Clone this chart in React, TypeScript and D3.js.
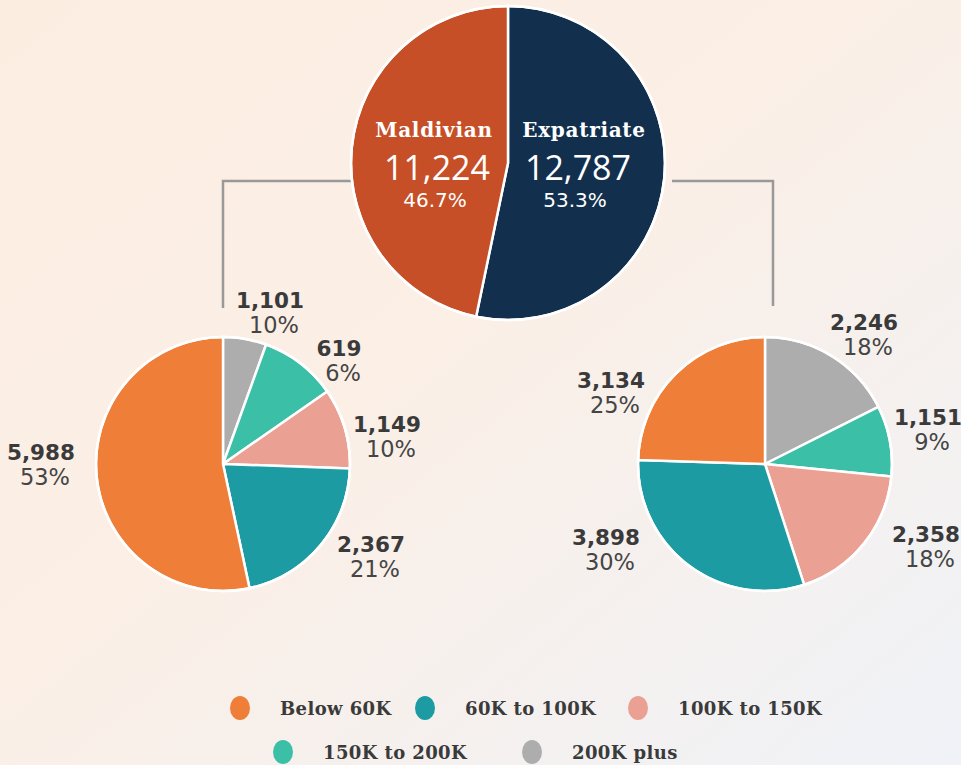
import React from "react";
import * as d3 from "d3";

// ---- Data ----
const mainCategories = ["Expatriate", "Maldivian"];
const mainValues = [12787, 11224];
const mainPercents = ["53.3%", "46.7%"];

// pie drawing order (clockwise from 12 o'clock)
const incomeCategories = ["200K plus", "150K to 200K", "100K to 150K", "60K to 100K", "Below 60K"];
const maldivianValues = [619, 1101, 1149, 2367, 5988];
const expatriateValues = [2246, 1151, 2358, 3898, 3134];

// label texts as printed next to each slice (same order as slices)
const maldivianLabelValues = ["1,101", "619", "1,149", "2,367", "5,988"];
const maldivianLabelPercents = ["10%", "6%", "10%", "21%", "53%"];
const expatriateLabelValues = ["2,246", "1,151", "2,358", "3,898", "3,134"];
const expatriateLabelPercents = ["18%", "9%", "18%", "30%", "25%"];

const legendOrder = ["Below 60K", "60K to 100K", "100K to 150K", "150K to 200K", "200K plus"];

// ---- Styles / layout ----
const incomeColors: Record<string, string> = {
  "Below 60K": "#ee7e38",
  "60K to 100K": "#1c9ba3",
  "100K to 150K": "#eba094",
  "150K to 200K": "#3bbfa6",
  "200K plus": "#adadad",
};
const mainColors = ["#12304e", "#c64f28"];

const W = 961, H = 765;
const top = { cx: 508, cy: 163, r: 157 };
const leftPie = { cx: 223, cy: 464, r: 127 };
const rightPie = { cx: 765, cy: 464, r: 127 };

const mainNameX = [584, 434];
const mainNumX = [578, 437];
const mainPctX = [575, 435];

// label anchor centers (x, y of number baseline) per slice
const leftLabelPos = [[270, 308], [339, 356], [387, 432], [371, 552], [41, 460]];
const rightLabelPos = [[864, 330], [928, 425], [926, 542], [606, 545], [611, 388]];
const legendPos = [[240, 708], [425, 708], [638, 708], [283, 752], [532, 752]];

const numFont = "'Open Sans', 'Noto Sans', sans-serif";
const geoFont = "'DejaVu Sans', sans-serif";
const slabFont = "'DejaVu Serif', serif";

function SubPie({ p, values, labVals, labPcts, pos }: any) {
  const pie = d3.pie<number>().sort(null).value((d) => d);
  const arc = d3.arc<d3.PieArcDatum<number>>().innerRadius(0).outerRadius(p.r);
  const arcs = pie(values);
  return (
    <g>
      <g transform={`translate(${p.cx},${p.cy})`}>
        {arcs.map((a, i) => (
          <path key={i} d={arc(a) || ""} fill={incomeColors[incomeCategories[i]]} stroke="#fff" strokeWidth={2.5} strokeLinejoin="round" />
        ))}
        <circle r={p.r} fill="none" stroke="#fff" strokeWidth={2.5} />
      </g>
      {labVals.map((v: string, i: number) => (
        <g key={i}>
          <text x={pos[i][0]} y={pos[i][1]} textAnchor="middle" fontFamily={geoFont} fontWeight={700} fontSize={21.5} fill="#3a3a3a">{v}</text>
          <text x={pos[i][0] + 4} y={pos[i][1] + 25} textAnchor="middle" fontFamily={geoFont} fontWeight={400} fontSize={22.5} fill="#454545">{labPcts[i]}</text>
        </g>
      ))}
    </g>
  );
}

export default function App() {
  const pie = d3.pie<number>().sort(null).value((d) => d);
  const arc = d3.arc<d3.PieArcDatum<number>>().innerRadius(0).outerRadius(top.r);
  const mainArcs = pie(mainValues);
  return (
    <svg width={W} height={H} style={{ position: "absolute", left: 0, top: 0 }}>
      <defs>
        <linearGradient id="bg" x1="0" y1="0" x2="1" y2="1">
          <stop offset="0" stopColor="#fcede1" />
          <stop offset="0.45" stopColor="#fbefe6" />
          <stop offset="1" stopColor="#eff2f7" />
        </linearGradient>
      </defs>
      <rect width={W} height={H} fill="url(#bg)" />
      {/* connectors */}
      <path d={`M${leftPie.cx},${308} V181 H${top.cx - top.r}`} fill="none" stroke="#999" strokeWidth={2.5} />
      <path d={`M${top.cx + top.r + 7},181 H773 V${306}`} fill="none" stroke="#999" strokeWidth={2.5} />
      {/* main pie */}
      <g transform={`translate(${top.cx},${top.cy})`}>
        {mainArcs.map((a, i) => (
          <path key={i} d={arc(a) || ""} fill={mainColors[i]} stroke="#fff" strokeWidth={2.5} />
        ))}
        <circle r={top.r} fill="none" stroke="#fff" strokeWidth={2.5} />
      </g>
      {mainCategories.map((c, i) => (
        <g key={c} fill="#fff" textAnchor="middle">
          <text x={mainNameX[i]} y={137} fontFamily={slabFont} fontWeight={700} fontSize={20} letterSpacing={0.7}>{c}</text>
          <text x={mainNumX[i]} y={180} fontFamily={numFont} fontWeight={400} fontSize={34}>{d3.format(",")(mainValues[i])}</text>
          <text x={mainPctX[i]} y={207} fontFamily={geoFont} fontWeight={400} fontSize={20}>{mainPercents[i]}</text>
        </g>
      ))}
      <SubPie p={leftPie} values={maldivianValues} labVals={maldivianLabelValues} labPcts={maldivianLabelPercents} pos={leftLabelPos} />
      <SubPie p={rightPie} values={expatriateValues} labVals={expatriateLabelValues} labPcts={expatriateLabelPercents} pos={rightLabelPos} />
      {/* legend */}
      {legendOrder.map((c, i) => (
        <g key={c}>
          <ellipse cx={legendPos[i][0]} cy={legendPos[i][1]} rx={10} ry={12} fill={incomeColors[c]} />
          <text x={legendPos[i][0] + 40} y={legendPos[i][1] + 7} fontFamily={slabFont} fontWeight={700} fontSize={18} letterSpacing={0.4} fill="#3a3a3a">{c}</text>
        </g>
      ))}
    </svg>
  );
}
